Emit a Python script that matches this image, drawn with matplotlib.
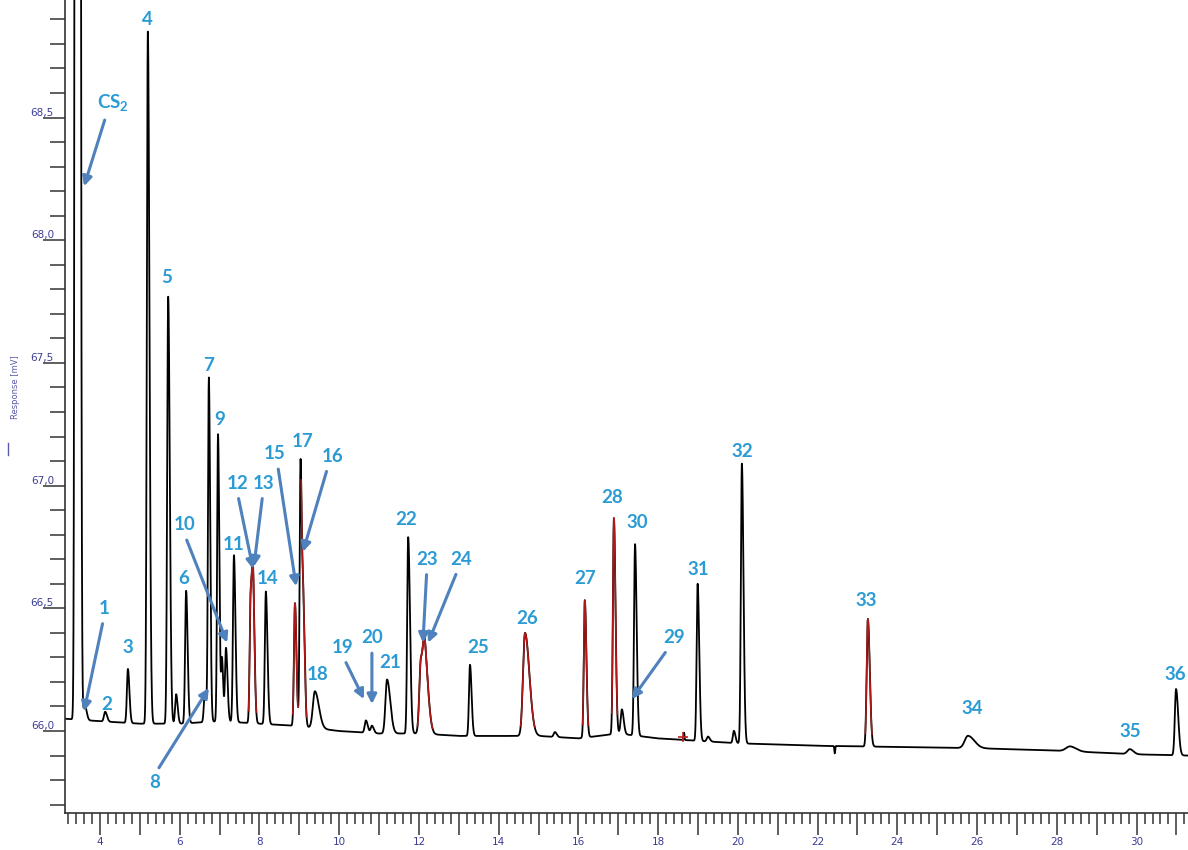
import numpy as np
import matplotlib
matplotlib.use('Agg')
import matplotlib.pyplot as plt
from matplotlib.ticker import MultipleLocator, FuncFormatter
from matplotlib.lines import Line2D

plt.rcParams['mathtext.fontset'] = 'custom'
plt.rcParams['mathtext.rm'] = 'Lato:bold'
plt.rcParams['mathtext.it'] = 'Lato:bold'
plt.rcParams['mathtext.bf'] = 'Lato:bold'

# baseline drift (time [min], response [mV])
base_t = [3.12, 4, 5, 6, 7, 8, 9, 10, 11, 12, 13, 14, 15, 16, 17, 18, 19, 20, 21, 22, 24, 26, 28, 30, 31.3]
base_v = [66.05, 66.04, 66.03, 66.03, 66.04, 66.03, 66.02, 66.0, 65.99, 65.99, 65.98, 65.98,
          65.98, 65.97, 65.99, 65.97, 65.96, 65.95, 65.945, 65.94, 65.935, 65.93, 65.92, 65.905, 65.9]

# peaks: retention time, height above baseline, width, tailing, red (integrated) or not
peak_t = [3.43, 3.62, 4.13, 4.70, 5.20, 5.71, 5.91, 6.16, 6.63, 6.73, 6.96, 7.06, 7.16, 7.36,
          7.78, 7.84, 8.16, 8.89, 9.03, 9.10, 9.39, 10.67, 10.82, 11.20, 11.73, 12.05, 12.15,
          13.28, 14.66, 15.41, 16.16, 16.89, 17.09, 17.42, 18.65, 18.99, 19.25, 19.90, 20.10,
          22.43, 23.26, 25.77, 28.33, 29.83, 30.99]
peak_h = [60.0, 0.06, 0.04, 0.22, 2.82, 1.74, 0.12, 0.54, 0.12, 1.40, 1.17, 0.25, 0.30, 0.68,
          0.52, 0.50, 0.54, 0.50, 1.08, 0.45, 0.15, 0.05, 0.03, 0.22, 0.80, 0.30, 0.25,
          0.29, 0.42, 0.02, 0.56, 0.88, 0.10, 0.78, 0.03, 0.64, 0.02, 0.05, 1.14,
          -0.03, 0.52, 0.05, 0.02, 0.02, 0.27]
peak_w = [0.03, 0.03, 0.03, 0.025, 0.025, 0.025, 0.025, 0.025, 0.025, 0.022, 0.022, 0.02, 0.025, 0.025,
          0.025, 0.025, 0.025, 0.025, 0.022, 0.025, 0.05, 0.03, 0.03, 0.04, 0.025, 0.04, 0.04,
          0.025, 0.05, 0.03, 0.025, 0.025, 0.03, 0.025, 0.01, 0.025, 0.03, 0.025, 0.025,
          0.01, 0.03, 0.08, 0.1, 0.06, 0.03]
peak_tail = [1.3, 1.5, 1.5, 1.5, 1.6, 1.6, 1.5, 1.5, 1.5, 1.5, 1.5, 1.5, 1.5, 1.5,
             1.5, 1.5, 1.6, 1.5, 1.5, 1.5, 2.0, 1.5, 1.5, 2.0, 1.8, 2.0, 2.2,
             1.6, 2.2, 1.5, 1.6, 1.6, 1.5, 1.6, 1.0, 1.6, 1.5, 1.5, 1.6,
             1.0, 1.6, 2.0, 1.5, 1.5, 1.8]
peak_red = [0, 0, 0, 0, 0, 0, 0, 0, 0, 0, 0, 0, 0, 0,
            1, 1, 0, 1, 0, 1, 0, 0, 0, 0, 0, 1, 1,
            0, 1, 0, 1, 1, 0, 0, 0, 0, 0, 0, 0,
            0, 1, 0, 0, 0, 0]

# peak labels without arrows: text, time, response
labels = ['2', '3', '4', '5', '6', '7', '9', '11', '14', '17', '18', '21', '22', '25',
          '26', '27', '28', '30', '31', '32', '33', '34', '35', '36']
label_t = [4.18, 4.70, 5.18, 5.66, 6.11, 6.73, 7.01, 7.34, 8.21, 9.09, 9.47, 11.27, 11.67, 13.48,
           14.71, 16.16, 16.84, 17.47, 19.0, 20.10, 23.21, 25.87, 29.83, 30.96]
label_v = [66.11, 66.34, 68.90, 67.85, 66.62, 67.49, 67.27, 66.76, 66.62, 67.18, 66.23, 66.28, 66.86, 66.34,
           66.46, 66.62, 66.95, 66.85, 66.66, 67.14, 66.53, 66.09, 66.0, 66.23]

# labels with arrows: text, text position, arrow tip
arrow_labels = ['CS$_2$', '1', '8', '10', '12', '13', '15', '16', '19', '20', '23', '24', '29']
arrow_text_t = [4.33, 4.10, 5.38, 6.11, 7.44, 8.09, 8.39, 9.84, 10.09, 10.82, 12.20, 13.05, 18.40]
arrow_text_v = [68.56, 66.50, 65.79, 66.84, 67.01, 67.01, 67.13, 67.12, 66.34, 66.38, 66.70, 66.70, 66.38]
arrow_tip_t = [3.60, 3.60, 6.73, 7.19, 7.84, 7.86, 8.92, 9.09, 10.62, 10.82, 12.10, 12.23, 17.34]
arrow_tip_v = [68.22, 66.08, 66.175, 66.36, 66.66, 66.67, 66.59, 66.73, 66.13, 66.11, 66.36, 66.36, 66.13]
arrow_rel = [(0.3, 0), (0.5, 0), (0.5, 1), (0.5, 0), (0.5, 0), (0.5, 0), (0.6, 0), (0.3, 0),
             (0.5, 0), (0.5, 0), (0.5, 0), (0.4, 0), (0.3, 0)]

t_min, t_max = 3.122, 31.29
v_min, v_max = 65.666, 68.979

# build the trace
t = np.arange(t_min, t_max, 0.002)
trace = np.interp(t, base_t, base_v)
for c, h, s, k in zip(peak_t, peak_h, peak_w, peak_tail):
    sig = np.where(t < c, s, s * k)
    trace = trace + h * np.exp(-0.5 * ((t - c) / sig) ** 2)

fig = plt.figure(figsize=(11.88, 8.5), dpi=100)
ax = fig.add_axes([65 / 1188, 37 / 850, 1 - 65 / 1188, 813 / 850])

ax.plot(t, trace, color='black', lw=1.3)
for c, h, s, k, r in zip(peak_t, peak_h, peak_w, peak_tail, peak_red):
    if r:
        m = (t > c - 2.2 * s) & (t < c + 2.2 * s * k)
        ax.plot(t[m], trace[m], color='#b01818', lw=1.1)
ax.plot([18.62], [65.975], marker='+', color='#c02020', ms=7, mew=1.2)

ax.set_xlim(t_min, t_max)
ax.set_ylim(v_min, v_max)

for sp in ['top', 'right']:
    ax.spines[sp].set_visible(False)
for sp in ['left', 'bottom']:
    ax.spines[sp].set_color('#333333')
    ax.spines[sp].set_linewidth(1.2)

tick_blue = '#3c3c96'
ax.xaxis.set_major_locator(MultipleLocator(1))
ax.xaxis.set_minor_locator(MultipleLocator(0.2))
ax.xaxis.set_major_formatter(FuncFormatter(lambda x, p: str(int(round(x))) if round(x) % 2 == 0 else ''))
ax.tick_params(axis='x', which='major', direction='out', length=16, width=1.1, color='#333333',
               labelsize=7.5, labelcolor=tick_blue, pad=1)
ax.tick_params(axis='x', which='minor', direction='out', length=8, width=1.1, color='#333333')

ax.yaxis.set_major_locator(MultipleLocator(0.5))
ax.yaxis.set_minor_locator(MultipleLocator(0.1))
ax.yaxis.set_major_formatter(FuncFormatter(lambda y, p: f'{y:.1f}'.replace('.', ',')))
ax.tick_params(axis='y', which='major', direction='out', length=16, width=1.1, color='#333333',
               labelsize=7.5, labelcolor=tick_blue, pad=-8)
ax.tick_params(axis='y', which='minor', direction='out', length=11, width=1.1, color='#333333')
for lab in ax.get_yticklabels():
    lab.set_verticalalignment('bottom')

fig.text(15 / 1188, 1 - 387 / 850, 'Response [mV]', rotation=90, fontsize=6, color='#5a5aa8',
         ha='center', va='center')
fig.add_artist(Line2D([8 / 1188, 8 / 1188], [1 - 443 / 850, 1 - 455 / 850], color='#5a5aa8', lw=1))

lab_color = '#2b9bd3'
arrow_color = '#4f81bd'
for s, x, y in zip(labels, label_t, label_v):
    ax.text(x, y, s, ha='center', va='center', color=lab_color, fontsize=13.5,
            fontweight='bold', family='Lato', clip_on=False)

for s, x, y, xt, yt, rp in zip(arrow_labels, arrow_text_t, arrow_text_v, arrow_tip_t, arrow_tip_v, arrow_rel):
    ax.annotate(s, xy=(xt, yt), xytext=(x, y), ha='center', va='center', color=lab_color,
                fontsize=13.5, fontweight='bold', family='Lato', annotation_clip=False,
                arrowprops=dict(arrowstyle='-|>', color=arrow_color, lw=2.2, mutation_scale=14,
                                shrinkA=3, shrinkB=0, relpos=rp))

fig.savefig('out.png', dpi=100)
